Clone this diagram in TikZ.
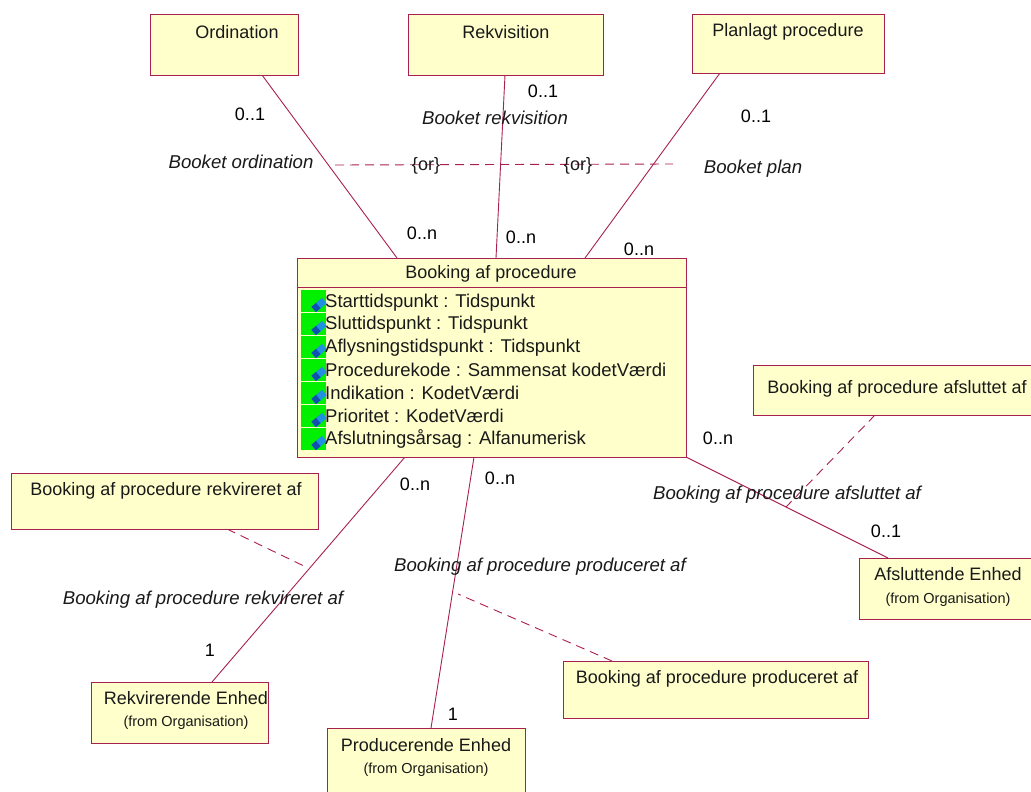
\documentclass[tikz,border=0pt]{standalone}
\usepackage{fontspec}
\setmainfont{Liberation Sans}
\definecolor{ln}{HTML}{A8204F}
\definecolor{bx}{HTML}{FFFFCC}
\definecolor{grn}{HTML}{00F000}
\definecolor{blu}{HTML}{2090E0}
\definecolor{dbl}{HTML}{1050B0}
\tikzset{
 box/.style={draw=ln,fill=bx,line width=0.9pt,inner sep=0pt,anchor=north west},
 ttl/.style={font=\fontsize{18}{20}\selectfont,inner sep=0pt,text=black!90},
 sub/.style={font=\fontsize{14.5}{16}\selectfont,inner sep=0pt,text=black!90},
 rel/.style={draw=ln,line width=0.9pt},
 dsh/.style={draw=ln,line width=0.9pt,dash pattern=on 9pt off 6pt},
 lab/.style={font=\fontsize{18.6}{20}\selectfont\itshape,inner sep=0pt,text=black!90},
 mul/.style={font=\fontsize{18}{20}\selectfont,inner sep=0pt,text=black},
 att/.style={font=\fontsize{18.5}{20}\selectfont,inner sep=0pt,anchor=west,text=black!90},
 gr/.style={fill=grn,draw=none,minimum width=25pt,inner sep=0pt,anchor=north west},
 ic/.style={fill=blu,draw=none,rotate=40,minimum width=14pt,minimum height=7pt,inner sep=0pt},
 icd/.style={fill=dbl,draw=none,rotate=40,minimum width=6pt,minimum height=7pt,inner sep=0pt}
}
\begin{document}
\begin{tikzpicture}[x=1pt,y=-1pt]
\useasboundingbox (0,0) rectangle (1031,792);
% connector end points
\coordinate (a1) at (262,75); \coordinate (a2) at (397,258);
\coordinate (b1) at (505,75); \coordinate (b2) at (496,258);
\coordinate (c1) at (720,73); \coordinate (c2) at (585,258);
\coordinate (d1) at (405,457); \coordinate (d2) at (212,682);
\coordinate (e1) at (474,457); \coordinate (e2) at (431,728);
\coordinate (f1) at (686,457); \coordinate (f2) at (888,558);
\coordinate (o1) at (335,165); \coordinate (o2) at (673,164);
\coordinate (n1a) at (875,415); \coordinate (n1b) at (786,507);
\coordinate (n2a) at (227,529); \coordinate (n2b) at (306,567);
\coordinate (n3a) at (612,661); \coordinate (n3b) at (458,594);
\draw[rel] (a1)--(a2); \draw[rel] (b1)--(b2); \draw[rel] (c1)--(c2);
\draw[rel] (d1)--(d2); \draw[rel] (e1)--(e2); \draw[rel] (f1)--(f2);
\draw[dsh] (o1)--(o2); \draw[dsh] (n1a)--(n1b); \draw[dsh] (n2a)--(n2b); \draw[dsh] (n3a)--(n3b);
% boxes
\node[box,minimum width=148pt,minimum height=61pt] (ord) at (150,14) {};
\node[box,minimum width=195pt,minimum height=61pt] (rek) at (408,14) {};
\node[box,minimum width=192pt,minimum height=59pt] (pla) at (692,14) {};
\node[ttl] (t1) at (237,32) {Ordination};
\node[ttl] (t2) at (506,32) {Rekvisition};
\node[ttl] (t3) at (788,32) {Planlagt procedure};
\node[box,minimum width=389pt,minimum height=199pt] (main) at (297,258) {};
\draw[rel] (main.north west)++(0,29) coordinate (h1) -- (h1 -| main.east);
\node[ttl] (t4) at (491,274) {Booking af procedure};
\foreach \i/\y in {0/290,1/313,2/336,3/359,4/382,5/405,6/428}{
 \node[gr,minimum height=21.5pt] (g\i) at (301,\y) {};
 \node[ic] (i\i) at (319,\y+15) {};
 \node[icd] (j\i) at (316,\y+17.5) {};
}
\node[att] (p0) at (325,303) {Starttidspunkt : Tidspunkt};
\node[att] (p1) at (325,325) {Sluttidspunkt : Tidspunkt};
\node[att] (p2) at (325,348) {Aflysningstidspunkt : Tidspunkt};
\node[att] (p3) at (325,370) {Procedurekode : Sammensat kodetVærdi};
\node[att] (p4) at (325,393) {Indikation : KodetVærdi};
\node[att] (p5) at (325,416) {Prioritet : KodetVærdi};
\node[att] (p6) at (325,439) {Afslutningsårsag : Alfanumerisk};
% notes
\node[box,minimum width=290pt,minimum height=50pt] (n1) at (753,365) {};
\node[ttl] (t5) at (897,389) {Booking af procedure afsluttet af};
\node[box,minimum width=307pt,minimum height=56pt] (n2) at (11,473) {};
\node[ttl] (t6) at (166,491) {Booking af procedure rekvireret af};
\node[box,minimum width=305pt,minimum height=57pt] (n3) at (563,661) {};
\node[ttl] (t7) at (717,679) {Booking af procedure produceret af};
% classes
\node[box,minimum width=190pt,minimum height=61pt] (af) at (859,558) {};
\node[ttl] (t8) at (948,574) {Afsluttende Enhed};
\node[sub] (s8) at (948,600) {(from Organisation)};
\node[box,minimum width=177pt,minimum height=61pt] (rv) at (91,682) {};
\node[ttl] (t9) at (186,698) {Rekvirerende Enhed};
\node[sub] (s9) at (186,723) {(from Organisation)};
\node[box,minimum width=198pt,minimum height=70pt] (pr) at (327,728) {};
\node[ttl] (t10) at (426,745) {Producerende Enhed};
\node[sub] (s10) at (426,770) {(from Organisation)};
% labels
\node[lab] (l1) at (241,162) {Booket ordination};
\node[lab] (l2) at (495,118) {Booket rekvisition};
\node[lab] (l3) at (753,169) {Booket plan};
\node[lab] (l4) at (787,495) {Booking af procedure afsluttet af};
\node[lab] (l5) at (203,600) {Booking af procedure rekvireret af};
\node[lab] (l6) at (540,567) {Booking af procedure produceret af};
\node[ttl] (o3) at (426,166) {\{or\}};
\node[ttl] (o4) at (578,166) {\{or\}};
% multiplicities
\node[mul] (m1) at (250,114) {0..1};
\node[mul] (m2) at (543,91) {0..1};
\node[mul] (m3) at (756,116) {0..1};
\node[mul] (m4) at (422,233) {0..n};
\node[mul] (m5) at (521,237) {0..n};
\node[mul] (m6) at (639,249) {0..n};
\node[mul] (m7) at (415,484) {0..n};
\node[mul] (m8) at (500,478) {0..n};
\node[mul] (m9) at (718,438) {0..n};
\node[mul] (m10) at (886,531) {0..1};
\node[mul] (m11) at (210,650) {1};
\node[mul] (m12) at (453,714) {1};
\end{tikzpicture}
\end{document}
